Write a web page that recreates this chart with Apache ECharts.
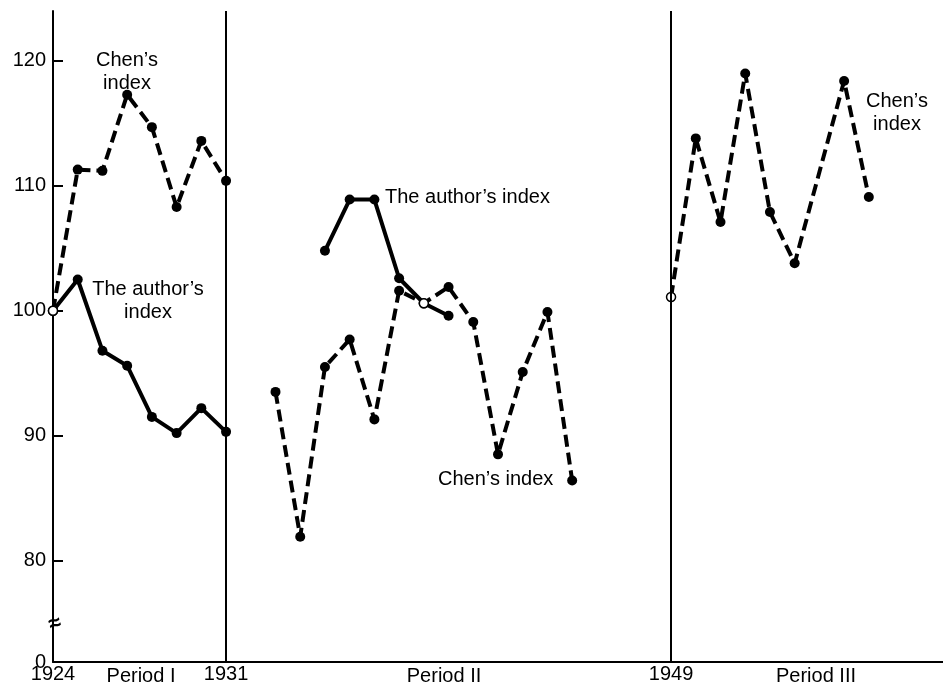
<!DOCTYPE html>
<html><head><meta charset="utf-8">
<script src="https://cdn.jsdelivr.net/npm/echarts@6/dist/echarts.min.js"></script>
<style>html,body{margin:0;padding:0;background:#fff}#c{width:943px;height:686px}</style>
</head><body><div id="c"></div>
<script>
// ---- data ----
const yearsI = [1924, 1925, 1926, 1927, 1928, 1929, 1930, 1931];
const chenI = [100, 111.3, 111.2, 117.3, 114.7, 108.3, 113.6, 110.4];
const authorI = [100, 102.5, 96.8, 95.6, 91.5, 90.2, 92.2, 90.3];
const yearsChenII = [1933, 1934, 1935, 1936, 1937, 1938, 1939, 1940, 1941, 1942, 1943, 1944, 1945];
const chenII = [93.5, 81.9, 95.5, 97.7, 91.3, 101.6, 100.6, 101.9, 99.1, 88.5, 95.1, 99.9, 86.4];
const yearsAuthorII = [1935, 1936, 1937, 1938, 1939, 1940];
const authorII = [104.8, 108.9, 108.9, 102.6, 100.6, 99.6];
const yearsChenIII = [1949, 1950, 1951, 1952, 1953, 1954, 1956, 1957];
const chenIII = [101.1, 113.8, 107.1, 119.0, 107.9, 103.8, 118.4, 109.1];
const baseYears = [1924, 1939, 1949];
const xTickYears = [1924, 1931, 1949];
const periodDividers = [1931, 1949];
const yTickValues = [80, 90, 100, 110, 120];
const yLabelValues = [0, 80, 90, 100, 110, 120];
const yBreak = { start: 1, end: 76 };
const periodNames = ['Period I', 'Period II', 'Period III'];
const chenName = 'Chen’s index';
const authorName = 'The author’s index';

// ---- chart ----
const FONT = '"Liberation Sans", Arial, sans-serif';
function pts(years, vals) {
  return years.map((y, i) => baseYears.includes(y)
    ? { value: [y, vals[i]], symbolSize: 9, itemStyle: { color: '#fff', borderColor: '#000', borderWidth: 1.5 } }
    : [y, vals[i]]);
}
function lineSeries(name, years, vals, dashed, extra) {
  return Object.assign({
    name: name, type: 'line', data: pts(years, vals),
    symbol: 'circle', symbolSize: 10, showSymbol: true,
    itemStyle: { color: '#000' },
    lineStyle: { color: '#000', width: 4, type: dashed ? [12, 6] : 'solid', cap: 'butt' },
    animation: false, silent: true
  }, extra || {});
}
const dividerLine = {
  silent: true, symbol: 'none', label: { show: false }, animation: false,
  lineStyle: { color: '#000', width: 2, type: 'solid' },
  data: periodDividers.map(x => ({ xAxis: x }))
};
const txt = (text, x, y, align) => ({
  type: 'text', x: x, y: y, silent: true,
  style: { text: text, fill: '#000', font: '20px ' + FONT, align: align || 'center', verticalAlign: 'middle', lineHeight: 23 }
});

const chart = echarts.init(document.getElementById('c'), null, { renderer: 'canvas' });
chart.setOption({
  backgroundColor: '#fff',
  animation: false,
  grid: { left: 53, right: 0, top: 11, bottom: 24, containLabel: false },
  xAxis: {
    type: 'value', min: 1924, max: 1960,
    axisLine: { show: true, lineStyle: { color: '#000', width: 2 } },
    axisTick: { show: false },
    splitLine: { show: false },
    axisLabel: { customValues: xTickYears, formatter: v => String(v), color: '#000', fontSize: 20, fontFamily: FONT, margin: 2 }
  },
  yAxis: {
    type: 'value', min: 0, max: 124,
    breaks: [{ start: yBreak.start, end: yBreak.end, gap: '6%' }],
    breakArea: { show: false },
    axisLine: { show: true, lineStyle: { color: '#000', width: 2 } },
    axisTick: { show: true, inside: true, length: 10, customValues: yTickValues, lineStyle: { color: '#000', width: 2 } },
    splitLine: { show: false },
    axisLabel: { customValues: yLabelValues, formatter: v => String(v), color: '#000', fontSize: 20, fontFamily: FONT, margin: 7 }
  },
  series: [
    lineSeries(chenName, yearsI, chenI, true, { markLine: dividerLine }),
    lineSeries(authorName, yearsI, authorI, false),
    lineSeries(chenName, yearsChenII, chenII, true),
    lineSeries(authorName, yearsAuthorII, authorII, false),
    lineSeries(chenName, yearsChenIII, chenIII, true)
  ]
});

// annotations + continuous axis line through the break, with a break mark on it
const xAt = chart.convertToPixel({ xAxisIndex: 0 }, 1924);
const yLo = chart.convertToPixel({ yAxisIndex: 0 }, yBreak.start);
const yHi = chart.convertToPixel({ yAxisIndex: 0 }, yBreak.end);
chart.setOption({
  graphic: [
    txt('Chen’s\nindex', 127, 72),
    txt('The author’s\nindex', 148, 301),
    txt(authorName, 385, 197, 'left'),
    txt(chenName, 438, 479, 'left'),
    txt('Chen’s\nindex', 897, 113),
    txt(periodNames[0], 141, 676),
    txt(periodNames[1], 444, 676),
    txt(periodNames[2], 816, 676),
    { type: 'line', silent: true, z: 5, shape: { x1: xAt, y1: yLo + 2, x2: xAt, y2: yHi - 2 }, style: { stroke: '#000', lineWidth: 2 } },
    { type: 'text', x: xAt + 2, y: (yLo + yHi) / 2 - 6, rotation: 0.3, silent: true, z: 6,
      style: { text: '≈', fill: '#000', font: 'bold 22px ' + FONT, align: 'center', verticalAlign: 'middle' } }
  ]
});
</script>
</body></html>
